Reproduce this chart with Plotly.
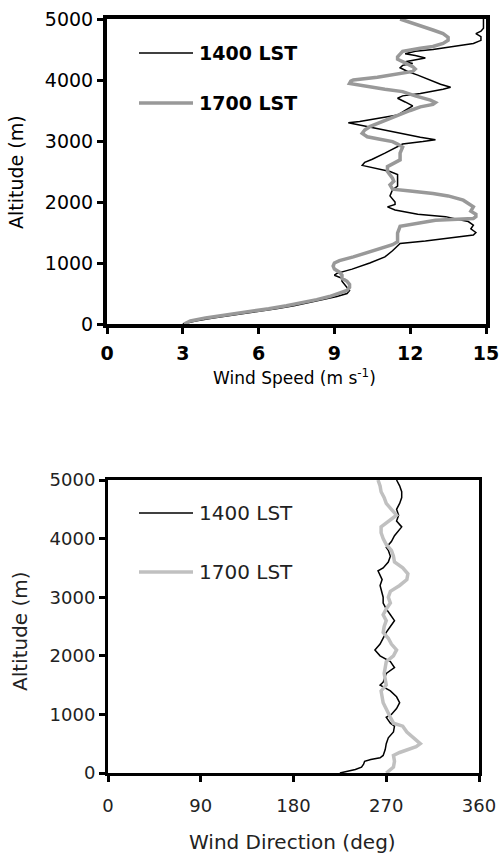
import plotly.graph_objects as go

# ---------------- Data: wind speed (top panel) ----------------
alt_ws_1400 = [0, 50, 100, 150, 200, 250, 300, 350, 400, 450, 500, 550, 600, 650, 700, 750, 800, 830, 860, 900,
               1000, 1100, 1200, 1270, 1320, 1360, 1420, 1460, 1500, 1560, 1620, 1680, 1720, 1760, 1800, 1870,
               1920, 1960, 2000, 2100, 2200, 2260, 2350, 2450, 2500, 2550, 2600, 2650, 2700, 2800, 2900, 2950,
               2990, 3020, 3060, 3125, 3200, 3260, 3300, 3320, 3380, 3425, 3500, 3575, 3640, 3700, 3740, 3780,
               3850, 3880, 3930, 4000, 4080, 4140, 4200, 4240, 4270, 4300, 4330, 4360, 4400, 4430, 4470, 4500,
               4550, 4600, 4650, 4710, 4760, 4800, 4850, 5000]
ws_1400 = [3.0, 3.5, 4.2, 5.1, 5.9, 6.7, 7.4, 8.0, 8.6, 9.1, 9.5, 9.6, 9.5, 9.4, 9.3, 9.3, 9.0, 9.1, 9.4, 9.7,
           10.4, 11.0, 11.3, 11.5, 11.6, 12.6, 13.7, 14.5, 14.6, 14.4, 14.5, 14.3, 13.8, 13.4, 12.3, 11.4,
           11.1, 11.4, 11.4, 11.2, 11.3, 11.5, 11.5, 11.5, 11.2, 10.6, 10.1, 10.2, 10.5, 11.0, 11.5, 11.7,
           12.5, 13.0, 12.4, 11.6, 10.8, 10.0, 9.55, 10.0, 10.8, 11.5, 11.8, 12.1, 11.8, 11.5, 11.7, 12.4,
           13.3, 13.6, 13.2, 12.8, 12.3, 11.9, 11.6, 11.7, 12.1, 11.8, 12.2, 12.6, 12.2, 11.8, 12.2, 12.9,
           13.7, 14.5, 14.8, 14.8, 14.6, 14.8, 14.9, 14.9]

alt_ws_1700 = [0, 50, 100, 150, 200, 250, 300, 350, 400, 450, 500, 550, 600, 650, 700, 750, 800, 850, 900, 950,
               1000, 1040, 1100, 1200, 1300, 1350, 1400, 1490, 1600, 1650, 1700, 1730, 1760, 1800, 1850, 1920,
               1980, 2030, 2100, 2140, 2180, 2210, 2280, 2340, 2390, 2450, 2500, 2580, 2640, 2690, 2800, 2900,
               2950, 2990, 3030, 3070, 3125, 3180, 3235, 3320, 3425, 3500, 3560, 3600, 3630, 3670, 3740, 3810,
               3850, 3880, 3920, 3945, 3980, 4000, 4045, 4100, 4140, 4180, 4220, 4280, 4340, 4380, 4430, 4470,
               4520, 4550, 4600, 4650, 4700, 4760, 4820, 4880, 4950, 5000]
ws_1700 = [3.05, 3.3, 3.9, 4.8, 5.6, 6.4, 7.1, 7.8, 8.3, 8.8, 9.2, 9.5, 9.6, 9.6, 9.5, 9.3, 9.3, 9.2, 9.0, 8.95,
           9.0, 9.2, 9.75, 10.5, 11.3, 11.5, 11.5, 11.5, 11.6, 12.3, 13.0, 14.5, 14.6, 14.6, 14.4, 14.5,
           14.3, 14.1, 13.5, 12.9, 12.0, 11.3, 11.2, 11.35, 11.3, 11.2, 11.1, 11.1, 11.4, 11.6, 11.6, 11.7,
           11.5, 11.3, 10.8, 10.3, 10.1, 10.2, 10.4, 10.9, 11.5, 12.0, 12.4, 12.9, 13.0, 12.8, 12.2, 11.7,
           11.0, 10.5, 9.9, 9.6, 9.65, 9.75, 10.7, 11.5, 12.1, 12.2, 12.1, 11.8, 11.5, 11.5, 11.6, 11.7,
           12.4, 12.9, 13.3, 13.5, 13.5, 13.3, 12.9, 12.5, 12.0, 11.6]

# ---------------- Data: wind direction (bottom panel) ----------------
alt_wd_1400 = [0, 30, 60, 100, 150, 200, 230, 260, 300, 400, 500, 600, 700, 800, 850, 950, 1000, 1100, 1200,
               1300, 1400, 1500, 1550, 1700, 1800, 1900, 2000, 2100, 2200, 2300, 2400, 2500, 2600, 2700, 2800,
               2900, 3000, 3200, 3300, 3450, 3500, 3600, 3700, 3800, 3850, 3950, 4050, 4200, 4300, 4400, 4500,
               4600, 4700, 4800, 4900, 5000]
wd_1400 = [225, 232, 240, 246, 248, 249, 255, 264, 267, 269, 270, 272, 277, 278, 274, 270, 275, 280, 283,
           280, 274, 264, 267, 270, 278, 274, 264, 259, 264, 267, 270, 274, 278, 274, 270,
           267, 267, 264, 266, 262, 267, 272, 274, 272, 270, 275, 278, 285, 280, 282, 280,
           283, 285, 285, 283, 280]

alt_wd_1700 = [0, 100, 200, 300, 350, 450, 500, 600, 700, 800, 850, 950, 1100, 1200, 1400, 1500, 1700, 1900,
               2000, 2100, 2200, 2300, 2400, 2500, 2600, 2700, 2800, 2900, 3000, 3100, 3200, 3300, 3400, 3500,
               3600, 3700, 3800, 3900, 4000, 4100, 4200, 4300, 4400, 4500, 4600, 4700, 4800, 4900, 5000]
wd_1700 = [270, 277, 278, 277, 283, 299, 303, 296, 290, 286, 277, 274, 270, 267, 265, 270, 268, 270,
           277, 280, 275, 272, 267, 268, 270, 267, 270, 274, 272, 274, 283, 290, 291, 286,
           278, 277, 275, 270, 267, 265, 265, 272, 280, 275, 270, 268, 265, 264, 262]

series_names = ["1400 LST", "1700 LST"]
ws_ticks = [0, 3, 6, 9, 12, 15]
wd_ticks = [0, 90, 180, 270, 360]
alt_ticks = [0, 1000, 2000, 3000, 4000, 5000]

W, H = 499, 856
FONT = "DejaVu Sans"

def px(xp):
    return xp / W

def py(yp):
    return 1 - yp / H

fig = go.Figure()
fig.add_trace(go.Scatter(x=ws_1400, y=alt_ws_1400, mode="lines", name=series_names[0],
                         line=dict(color="black", width=1.5), xaxis="x", yaxis="y", showlegend=False))
fig.add_trace(go.Scatter(x=ws_1700, y=alt_ws_1700, mode="lines", name=series_names[1],
                         line=dict(color="#999999", width=3.5), xaxis="x", yaxis="y", showlegend=False))
fig.add_trace(go.Scatter(x=wd_1400, y=alt_wd_1400, mode="lines", name=series_names[0],
                         line=dict(color="black", width=1.5), xaxis="x2", yaxis="y2", showlegend=False))
fig.add_trace(go.Scatter(x=wd_1700, y=alt_wd_1700, mode="lines", name=series_names[1],
                         line=dict(color="#c0c0c0", width=3.5), xaxis="x2", yaxis="y2", showlegend=False))

axis_common = dict(showline=True, linecolor="black", mirror=True, showgrid=False, zeroline=False,
                   ticks="outside", tickcolor="black", tickwidth=3, ticklen=6, automargin=False,
                   ticklabeloverflow="allow")

fig.update_layout(
    width=W, height=H, margin=dict(l=0, r=0, t=0, b=0, autoexpand=False),
    paper_bgcolor="white", plot_bgcolor="white",
    font=dict(family=FONT, color="black"),
    xaxis=dict(domain=[px(107), px(486)], anchor="y", range=[0, 15], tickvals=ws_ticks,
               tickfont=dict(family=FONT, size=19, color="black", weight="bold"),
               linewidth=4, ticklabelstandoff=3, **axis_common),
    yaxis=dict(domain=[py(324), py(19)], anchor="x", range=[0, 5000], tickvals=alt_ticks,
               tickfont=dict(family=FONT, size=19, color="black"), linewidth=4, **axis_common),
    xaxis2=dict(domain=[px(108), px(479)], anchor="y2", range=[0, 360], tickvals=wd_ticks,
                tickfont=dict(family=FONT, size=18, color="#222222"), linewidth=3,
                ticklabelstandoff=8, **axis_common),
    yaxis2=dict(domain=[py(773), py(480)], anchor="x2", range=[0, 5000], tickvals=alt_ticks,
                tickfont=dict(family=FONT, size=18, color="#222222"), linewidth=3, **axis_common),
)

# legend samples (shapes) and labels
legend_items = [
    (53, "black", 1.5, series_names[0], True, "black", 19),
    (103, "#999999", 3.5, series_names[1], True, "black", 19),
    (513, "black", 1.5, series_names[0], False, "#222222", 20),
    (572, "#c0c0c0", 3.5, series_names[1], False, "#222222", 20),
]
for yp, col, lw, label, bold, tcol, fs in legend_items:
    fig.add_shape(type="line", xref="paper", yref="paper", x0=px(139), x1=px(193), y0=py(yp), y1=py(yp),
                  line=dict(color=col, width=lw))
    fig.add_annotation(xref="paper", yref="paper", x=px(197), y=py(yp), xanchor="left", yanchor="middle",
                       text=label, showarrow=False,
                       font=dict(family=FONT, size=fs, color=tcol, weight="bold" if bold else "normal"))

# axis titles
fig.add_annotation(xref="paper", yref="paper", x=px(294), y=py(377), xanchor="center", yanchor="middle",
                   text="Wind Speed (m s<sup>-1</sup>)", showarrow=False,
                   font=dict(family=FONT, size=17, color="black"))
fig.add_annotation(xref="paper", yref="paper", x=px(16), y=py(172), xanchor="center", yanchor="middle",
                   text="Altitude (m)", textangle=-90, showarrow=False,
                   font=dict(family=FONT, size=19, color="black"))
fig.add_annotation(xref="paper", yref="paper", x=px(292), y=py(842), xanchor="center", yanchor="middle",
                   text="Wind Direction (deg)", showarrow=False,
                   font=dict(family=FONT, size=20, color="#222222"))
fig.add_annotation(xref="paper", yref="paper", x=px(20), y=py(631), xanchor="center", yanchor="middle",
                   text="Altitude (m)", textangle=-90, showarrow=False,
                   font=dict(family=FONT, size=20, color="#222222"))

fig.write_html("out.html")
